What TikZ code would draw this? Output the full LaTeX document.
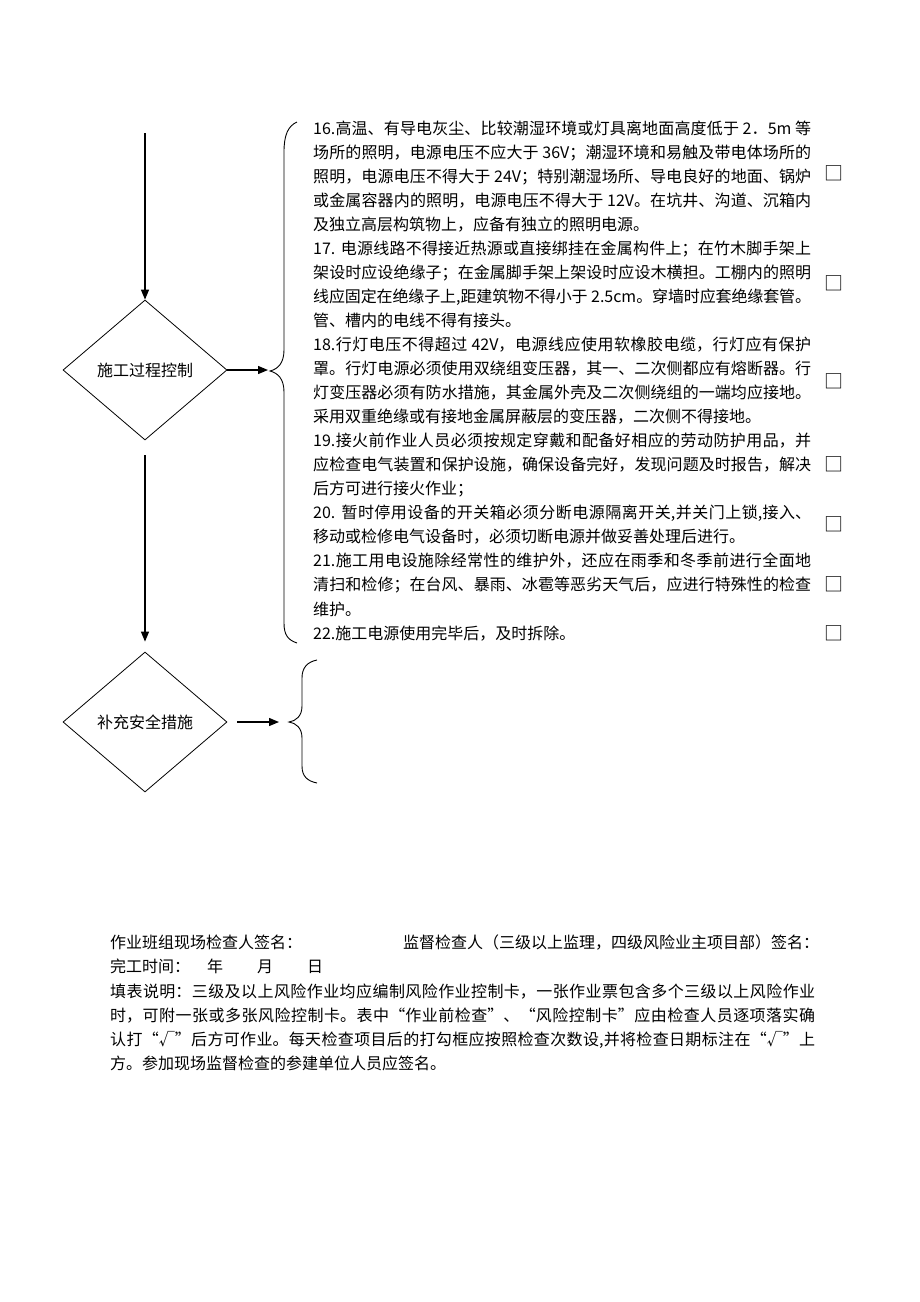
\documentclass[tikz,border=0pt]{standalone}
\usepackage{fontspec}
\setmainfont{Noto Sans CJK SC}
\usetikzlibrary{shapes.geometric,arrows.meta}
\XeTeXlinebreaklocale "zh"
\XeTeXlinebreakskip=0pt plus 2pt minus 1pt
\newcommand{\cjkpar}{\XeTeXlinebreaklocale "zh"\XeTeXlinebreakskip=0pt plus 2pt minus 1.2pt\parindent=0pt\parfillskip=0pt plus 1fil\emergencystretch=0pt}
\begin{document}
\begin{tikzpicture}[x=1pt,y=-1pt,
  decision/.style={draw, diamond, line width=0.8pt, minimum width=164pt, minimum height=140pt, inner sep=0pt, font=\fontsize{16}{19}\selectfont},
  flow/.style={line width=1.3pt, -{Triangle[length=10pt,width=8pt]}},
  bracestyle/.style={line width=0.9pt},
  txt/.style={inner sep=0pt, anchor=base west, font=\fontsize{16}{24}\selectfont},
  chk/.style={inner sep=0pt, font=\fontsize{19}{19}\selectfont}]
\useasboundingbox (0,0) rectangle (920,1302);
\fill[white] (0,0) rectangle (920,1302);

% diamonds
\node[decision] (d1) at (145,370) {施工过程控制};
\node[decision] (d2) at (145,722) {补充安全措施};

% connectors
\coordinate (start) at (145,133);
\coordinate (b1) at (268,370);
\coordinate (b2) at (279,722);
\draw[flow] (start) -- (d1.north);
\draw[flow, shorten <=15pt, shorten >=10pt] (d1.south) -- (d2.north);
\draw[flow] (d1.east) -- (b1);
\draw[flow, shorten <=10pt] (d2.east) -- (b2);

% braces
\draw[bracestyle] (297,122) .. controls (288,126) and (284,135) .. (284,152) -- (284,350)
  .. controls (284,363) and (278,369) .. (270,371)
  .. controls (278,373) and (284,379) .. (284,392) -- (284,623)
  .. controls (284,635) and (288,640) .. (297,643);
\draw[bracestyle] (317,660) .. controls (307,662) and (302,668) .. (302,678) -- (302,706)
  .. controls (302,716) and (296,721) .. (289,722)
  .. controls (296,723) and (302,728) .. (302,738) -- (302,766)
  .. controls (302,776) and (307,781) .. (317,783);

% items
\node[anchor=base west, inner sep=0pt] (items) at (313,134) {\parbox[t]{498pt}{\fontsize{16}{24.05}\selectfont\cjkpar
16.高温、有导电灰尘、比较潮湿环境或灯具离地面高度低于 2．5m 等\linebreak
场所的照明，电源电压不应大于 36V；潮湿环境和易触及带电体场所的\linebreak
照明，电源电压不得大于 24V；特别潮湿场所、导电良好的地面、锅炉\linebreak
或金属容器内的照明，电源电压不得大于 12V。在坑井、沟道、沉箱内\linebreak
及独立高层构筑物上，应备有独立的照明电源。\par
17. 电源线路不得接近热源或直接绑挂在金属构件上；在竹木脚手架上\linebreak
架设时应设绝缘子；在金属脚手架上架设时应设木横担。工棚内的照明\linebreak
线应固定在绝缘子上,距建筑物不得小于 2.5cm。穿墙时应套绝缘套管。\linebreak
管、槽内的电线不得有接头。\par
18.行灯电压不得超过 42V，电源线应使用软橡胶电缆，行灯应有保护\linebreak
罩。行灯电源必须使用双绕组变压器，其一、二次侧都应有熔断器。行\linebreak
灯变压器必须有防水措施，其金属外壳及二次侧绕组的一端均应接地。\linebreak
采用双重绝缘或有接地金属屏蔽层的变压器，二次侧不得接地。\par
19.接火前作业人员必须按规定穿戴和配备好相应的劳动防护用品，并\linebreak
应检查电气装置和保护设施，确保设备完好，发现问题及时报告，解决\linebreak
后方可进行接火作业；\par
20. 暂时停用设备的开关箱必须分断电源隔离开关,并关门上锁,接入、\linebreak
移动或检修电气设备时，必须切断电源并做妥善处理后进行。\par
21.施工用电设施除经常性的维护外，还应在雨季和冬季前进行全面地\linebreak
清扫和检修；在台风、暴雨、冰雹等恶劣天气后，应进行特殊性的检查\linebreak
维护。\par
22.施工电源使用完毕后，及时拆除。}};

% check boxes
\node[chk] (c16) at (834,173) {□};
\node[chk] (c17) at (834,283) {□};
\node[chk] (c18) at (834,381) {□};
\node[chk] (c19) at (834,464) {□};
\node[chk] (c20) at (834,524) {□};
\node[chk] (c21) at (834,584) {□};
\node[chk] (c22) at (834,633) {□};

% bottom text
\node[txt] (sig1) at (110,948) {作业班组现场检查人签名：};
\node[txt] (sig2) at (403,948) {监督检查人（三级以上监理，四级风险业主项目部）签名：};
\node[txt] (date) at (110,972) {完工时间：\hspace{17pt}年\hspace{34pt}月\hspace{34pt}日};
\node[anchor=base west, inner sep=0pt] (note) at (110,997) {\parbox[t]{705pt}{\fontsize{16}{24.2}\selectfont\cjkpar
填表说明：三级及以上风险作业均应编制风险作业控制卡，一张作业票包含多个三级以上风险作业\linebreak
时，可附一张或多张风险控制卡。表中“作业前检查”、“风险控制卡”应由检查人员逐项落实确\linebreak
认打“√”后方可作业。每天检查项目后的打勾框应按照检查次数设,并将检查日期标注在“√”上\linebreak
方。参加现场监督检查的参建单位人员应签名。}};
\end{tikzpicture}
\end{document}
